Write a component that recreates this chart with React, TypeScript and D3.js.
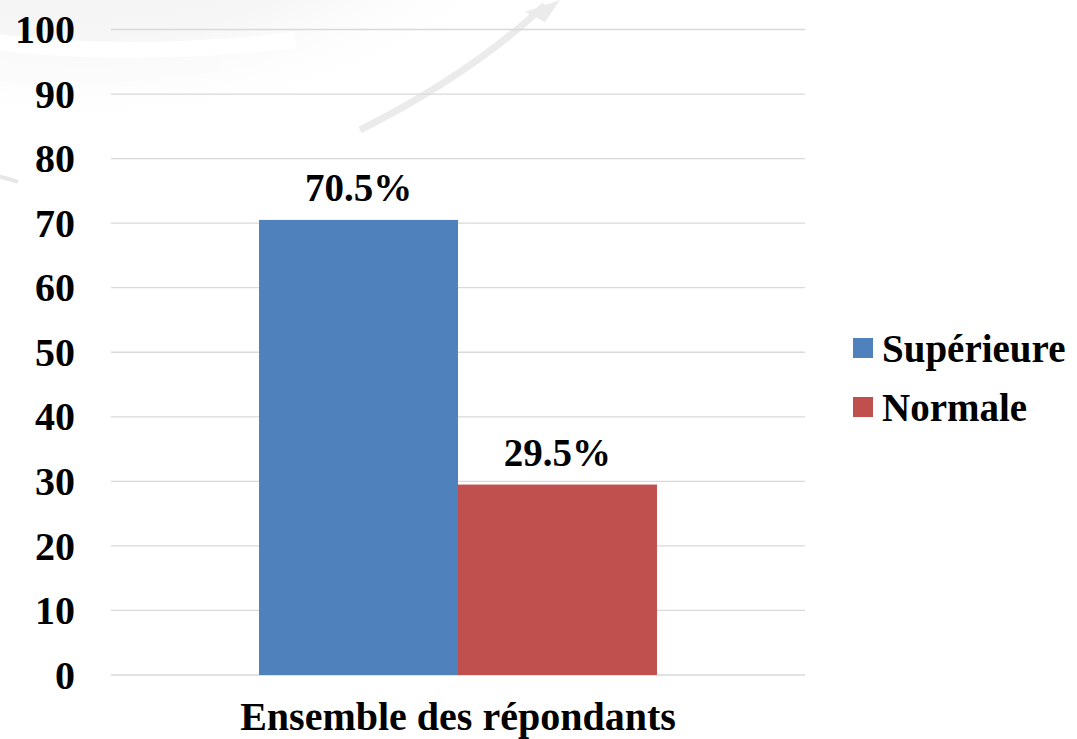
import React from "react";
import * as d3 from "d3";

const categories = ["Ensemble des répondants"];
const seriesNames = ["Supérieure", "Normale"];
const seriesValues = [70.5, 29.5];
const seriesColors = ["#4F81BD", "#C0504D"];
const yTicks = [0, 10, 20, 30, 40, 50, 60, 70, 80, 90, 100];

const W = 1077;
const H = 739;
const FONT = "'Liberation Serif', 'DejaVu Serif', serif";

export default function App() {
  const plotLeft = 111;
  const plotRight = 805;
  const y = d3.scaleLinear().domain([0, 100]).range([675, 29.5]);
  const x0 = d3.scaleBand().domain(categories).range([plotLeft, plotRight]).paddingInner(0).paddingOuter(0.372);
  const x1 = d3.scaleBand().domain(seriesNames).range([0, x0.bandwidth()]).padding(0);

  return (
    <svg width={W} height={H} style={{ position: "absolute", left: 0, top: 0, background: "#fff" }}>
      <defs>
        <radialGradient id="bgGrad" cx="0.35" cy="0.1" r="0.65">
          <stop offset="0" stopColor="#eeeeee" />
          <stop offset="0.6" stopColor="#f6f6f6" />
          <stop offset="1" stopColor="#ffffff" stopOpacity="0" />
        </radialGradient>
      </defs>
      <rect x={0} y={0} width={W} height={H} fill="#fff" />
      <ellipse cx={200} cy={40} rx={380} ry={200} fill="url(#bgGrad)" />
      <path d="M -20 40 Q 120 60 295 40" fill="none" stroke="#ffffff" strokeWidth={16} />
      <path d="M -20 75 Q 120 85 220 65" fill="none" stroke="#fbfbfb" strokeWidth={10} />
      <path d="M 360 130 Q 470 75 545 5" fill="none" stroke="#ebebeb" strokeWidth={7} />
      <path d="M 525 12 L 560 0 L 545 22 Z" fill="#ebebeb" />
      <path d="M -10 175 Q 8 178 18 182" fill="none" stroke="#e6e6e6" strokeWidth={4} />
      {yTicks.map((t) => (
        <g key={t}>
          <line x1={plotLeft} x2={plotRight} y1={y(t)} y2={y(t)} stroke="#d9d9d9" strokeWidth={1.3} />
          <text x={75} y={y(t)} dy="0.34em" textAnchor="end" fontFamily={FONT} fontWeight="bold" fontSize={40} fill="#000">
            {t}
          </text>
        </g>
      ))}
      {categories.map((c) => (
        <g key={c} transform={`translate(${x0(c)},0)`}>
          {seriesNames.map((s, i) => (
            <g key={s}>
              <rect x={x1(s)} y={y(seriesValues[i])} width={x1.bandwidth()} height={y(0) - y(seriesValues[i])} fill={seriesColors[i]} />
              <text x={(x1(s) as number) + x1.bandwidth() / 2} y={y(seriesValues[i]) - 19} textAnchor="middle" fontFamily={FONT} fontWeight="bold" fontSize={39} fill="#000">
                {seriesValues[i].toFixed(1)}%
              </text>
            </g>
          ))}
          <text x={x0.bandwidth() / 2} y={730} textAnchor="middle" fontFamily={FONT} fontWeight="bold" fontSize={40} fill="#000">
            {c}
          </text>
        </g>
      ))}
      {seriesNames.map((s, i) => (
        <g key={s} transform={`translate(853,${338 + i * 59})`}>
          <rect x={0} y={0} width={20} height={20} fill={seriesColors[i]} />
          <text x={29} y={10} dy="0.35em" fontFamily={FONT} fontWeight="bold" fontSize={39} fill="#000">
            {s}
          </text>
        </g>
      ))}
    </svg>
  );
}
